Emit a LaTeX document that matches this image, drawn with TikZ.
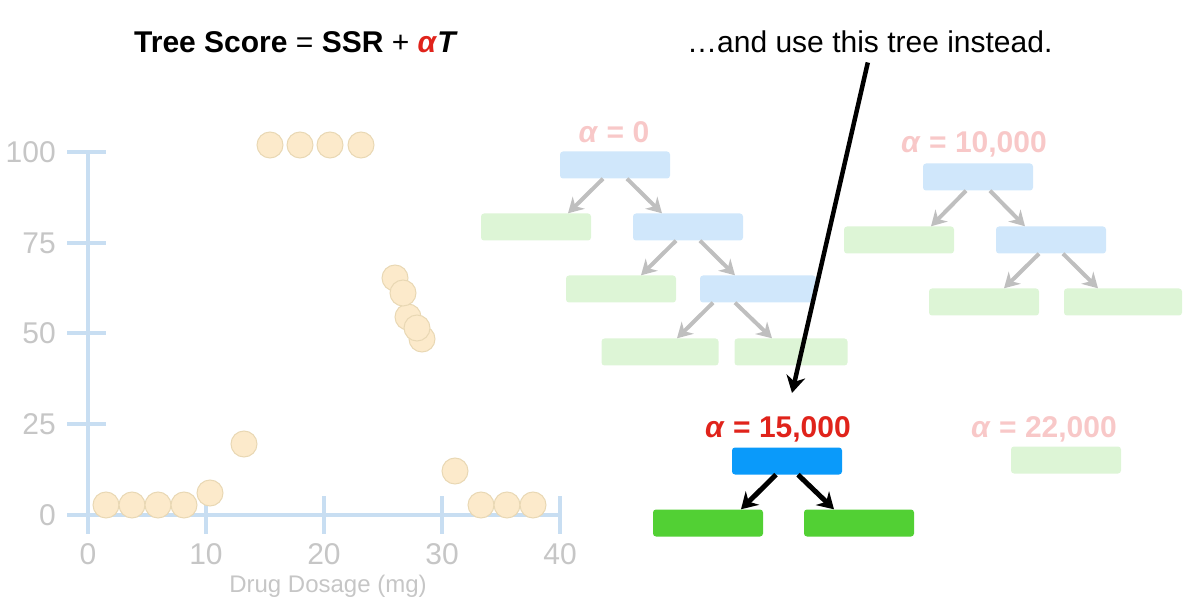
\documentclass[tikz,border=0pt]{standalone}
\usepackage{fontspec}
\setmainfont{Liberation Sans}
\usetikzlibrary{arrows.meta,calc,positioning}
\definecolor{axisblue}{HTML}{C8DEF2}
\definecolor{ticktext}{HTML}{C6C6C6}
\definecolor{dotfill}{HTML}{FCEACB}
\definecolor{dotline}{HTML}{E9D8B4}
\definecolor{paleblue}{HTML}{D0E7FB}
\definecolor{palegreen}{HTML}{DDF5D6}
\definecolor{solidblue}{HTML}{0A9AFA}
\definecolor{solidgreen}{HTML}{52D034}
\definecolor{palered}{HTML}{F8C8C8}
\definecolor{alphared}{HTML}{E0231B}
\definecolor{arrowgray}{HTML}{BFBFBF}
\tikzset{
  decision/.style={rectangle,rounded corners=3pt,minimum width=110pt,minimum height=27pt,inner sep=0pt,fill=solidblue},
  leaf/.style={decision,fill=solidgreen},
  decisionpale/.style={decision,fill=paleblue},
  leafpale/.style={decision,fill=palegreen},
  branch/.style={line width=4pt,arrowgray,-{Stealth[length=15pt,width=17pt]}},
  branchdark/.style={branch,black,line width=5pt,-{Stealth[length=16pt,width=19pt]}},
  datapt/.style={draw=dotline,fill=dotfill,line width=1pt},
  axisline/.style={axisblue,line width=4pt},
  ticklabel/.style={text=ticktext,inner sep=0pt,font=\fontsize{30}{36}\selectfont},
  alphalabel/.style={anchor=base,inner sep=0pt,font=\fontsize{30}{36}\selectfont\bfseries}
}

\begin{document}
\begin{tikzpicture}[x=1pt,y=-1pt]
  \useasboundingbox (0,0) rectangle (1194,609);

  % headings
  \node[anchor=base west,inner sep=0pt,font=\fontsize{30}{36}\selectfont] (title) at (134,53)
    {\textbf{Tree Score} = \textbf{SSR} + \textcolor{alphared}{\textbf{\textit{α}}}\textbf{\textit{T}}};
  \node[anchor=base west,inner sep=0pt,font=\fontsize{30}{36}\selectfont] (note) at (687,53)
    {…and use this tree instead.};

  % axes
  \draw[axisline] (88,152) -- (88,534);
  \draw[axisline] (67,515) -- (560,515);
  \foreach \y in {152,243,333,424}
    \draw[axisline] (67,\y) -- (106,\y);
  \foreach \x in {206,324,442,560}
    \draw[axisline] (\x,496) -- (\x,534);
  \foreach \y/\v in {152/100,243/75,333/50,424/25,515/0}
    \node[ticklabel,anchor=east] (yl\v) at (56,\y) {\v};
  \foreach \x/\v in {88/0,206/10,324/20,442/30,560/40}
    \node[ticklabel] (xl\v) at (\x,554) {\v};
  \node[ticklabel,font=\fontsize{24}{28}\selectfont] (xtitle) at (328,586) {Drug Dosage (mg)};

  % data
  \foreach \px/\py in {106/505,132/505,158/505,184/505,210/493,244/444,
      270/145,300/145,330/145,361/145,
      395/278,408/317,422/339,403/293,417/328,
      455/471,481/505,507/505,533/505}
    \draw[datapt] (\px,\py) circle[radius=13];

  % alpha = 0
  \node[alphalabel,text=palered] (a0) at (614,143) {\textit{α} = 0};
  \node[decisionpale] (r0) at (615,165) {};
  \node[leafpale] (l0a) at (536,227) {};
  \node[decisionpale] (n0a) at (688,227) {};
  \node[leafpale] (l0b) at (621,289) {};
  \node[decisionpale,minimum width=116pt] (n0b) at (758,289) {};
  \node[leafpale,minimum width=117pt] (l0c) at (660,352) {};
  \node[leafpale,minimum width=113pt] (l0d) at (791,352) {};
  \draw[branch] ([xshift=-12pt]r0.south) -- ([xshift=-47pt]r0.south |- l0a.north);
  \draw[branch] ([xshift=12pt]r0.south) -- ([xshift=47pt]r0.south |- n0a.north);
  \draw[branch] ([xshift=-12pt]n0a.south) -- ([xshift=-47pt]n0a.south |- l0b.north);
  \draw[branch] ([xshift=12pt]n0a.south) -- ([xshift=47pt]n0a.south |- n0b.north);
  \draw[branch] ([xshift=-45pt]n0b.south) -- ([xshift=-81pt]n0b.south |- l0c.north);
  \draw[branch] ([xshift=-23pt]n0b.south) -- ([xshift=14pt]n0b.south |- l0d.north);

  % alpha = 10,000
  \node[alphalabel,text=palered] (a1) at (974,153) {\textit{α} = 10,000};
  \node[decisionpale] (r1) at (978,177) {};
  \node[leafpale] (l1a) at (899,240) {};
  \node[decisionpale] (n1a) at (1051,240) {};
  \node[leafpale] (l1b) at (984,302) {};
  \node[leafpale,minimum width=118pt] (l1c) at (1123,302) {};
  \draw[branch] ([xshift=-12pt]r1.south) -- ([xshift=-47pt]r1.south |- l1a.north);
  \draw[branch] ([xshift=12pt]r1.south) -- ([xshift=47pt]r1.south |- n1a.north);
  \draw[branch] ([xshift=-12pt]n1a.south) -- ([xshift=-47pt]n1a.south |- l1b.north);
  \draw[branch] ([xshift=12pt]n1a.south) -- ([xshift=47pt]n1a.south |- l1c.north);

  % alpha = 15,000
  \node[alphalabel,text=alphared] (a2) at (778,437) {\textit{α} = 15,000};
  \node[decision] (r2) at (787,461) {};
  \node[leaf] (l2a) at (708,523) {};
  \node[leaf] (l2b) at (859,523) {};
  \draw[branchdark] ([xshift=-11pt]r2.south) -- ([xshift=-46pt]r2.south |- l2a.north);
  \draw[branchdark] ([xshift=11pt]r2.south) -- ([xshift=47pt]r2.south |- l2b.north);

  % alpha = 22,000
  \node[alphalabel,text=palered] (a3) at (1044,437) {\textit{α} = 22,000};
  \node[leafpale] (l3) at (1066,460) {};

  % pointer
  \coordinate (pick) at (792,393);
  \draw[line width=4.5pt,-{Stealth[length=17pt,width=19pt]}] ([xshift=-2pt,yshift=-9pt]note.south) -- (pick);
\end{tikzpicture}
\end{document}
